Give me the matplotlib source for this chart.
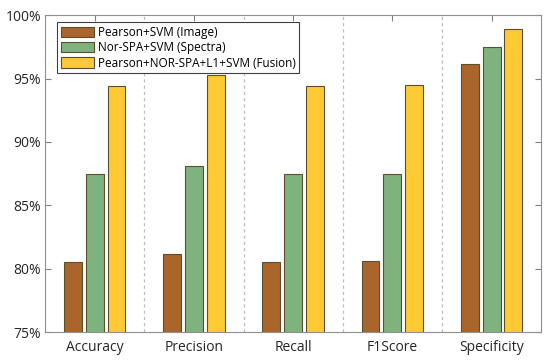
import numpy as np
import matplotlib
matplotlib.use('Agg')
import matplotlib.pyplot as plt
from matplotlib.ticker import FuncFormatter

plt.rcParams['font.family'] = ['Open Sans', 'DejaVu Sans']

CATEGORIES = ['Accuracy', 'Precision', 'Recall', 'F1Score', 'Specificity']
SERIES = ['Pearson+SVM (Image)', 'Nor-SPA+SVM (Spectra)',
          'Pearson+NOR-SPA+L1+SVM (Fusion)']
IMAGE = [80.55, 81.17, 80.55, 80.62, 96.14]
SPECTRA = [87.51, 88.12, 87.50, 87.44, 97.50]
FUSION = [94.40, 95.25, 94.45, 94.47, 98.87]
COLORS = ['#AA652B', '#7EB37D', '#FFCA33']

fig, ax = plt.subplots(figsize=(5.5, 3.61), dpi=100)
fig.subplots_adjust(left=0.082, right=0.984, top=0.958, bottom=0.08)

x = np.arange(1, len(CATEGORIES) + 1)
offsets = [-0.22, 0.0, 0.22]
for vals, off, col, lab in zip([IMAGE, SPECTRA, FUSION], offsets, COLORS, SERIES):
    ax.bar(x + off, vals, width=0.18, color=col, edgecolor='#5a5030',
           linewidth=0.8, label=lab, zorder=2)

for b in np.arange(1.5, len(CATEGORIES), 1.0):
    ax.axvline(b, color='#bdbdbd', linestyle=(0, (2.5, 2.5)), linewidth=0.9, zorder=1)

ax.set_xlim(0.5, len(CATEGORIES) + 0.5)
ax.set_ylim(75, 100)
ax.set_xticks(x)
ax.set_xticklabels(CATEGORIES, fontsize=10, color='#262626')
ax.set_yticks([75, 80, 85, 90, 95, 100])
ax.yaxis.set_major_formatter(FuncFormatter(lambda v, p: f'{v:.0f}%'))
ax.tick_params(axis='y', labelsize=10, labelcolor='#262626', pad=3)
ax.tick_params(axis='x', pad=6)
ax.tick_params(direction='in', top=True, right=True, length=4,
               color='#808080', width=0.8)
for s in ax.spines.values():
    s.set_color('#909090')
    s.set_linewidth(0.8)

leg = ax.legend(loc='upper left', bbox_to_anchor=(0.02, 0.985), fontsize=8.5,
                handlelength=2.8, handleheight=0.95, handletextpad=0.3,
                labelspacing=0.2, borderpad=0.3, borderaxespad=0.2,
                fancybox=False, framealpha=1)
leg.get_frame().set_edgecolor('#404040')
leg.get_frame().set_linewidth(0.8)

fig.savefig('out.png', dpi=100)
